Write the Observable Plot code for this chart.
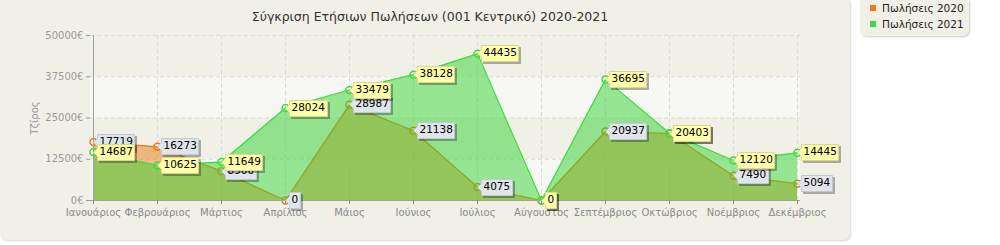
<!DOCTYPE html>
<html><head><meta charset="utf-8">
<script src="https://cdn.jsdelivr.net/npm/d3@7"></script>
<script src="https://cdn.jsdelivr.net/npm/@observablehq/plot@0.6"></script>
<style>
body{margin:0;background:#fff;font-family:"DejaVu Sans",sans-serif;}
#wrap{position:relative;width:1000px;height:245px;overflow:hidden}
#panel{position:absolute;left:0;top:0;width:850px;height:240px;background:#f1f0e6;border-radius:0 0 6px 6px;box-shadow:1px 1px 2px rgba(0,0,0,0.15)}
#title{position:absolute;left:0;width:860px;top:9px;text-align:center;font-size:12.5px;color:#333}
#chart{position:absolute;left:0;top:0}
#legend{position:absolute;left:860px;top:0;width:109px;height:36px;background:#f1f0e6;border-radius:0 0 6px 6px;box-shadow:1px 1px 2px rgba(0,0,0,0.2);font-size:10.5px;color:#222}
.li{position:absolute;left:10px;height:14px;line-height:14px;white-space:nowrap}
.sw{display:inline-block;width:6px;height:6px;margin-right:6px;vertical-align:1px}
</style></head>
<body>
<div id="wrap">
  <div id="panel"></div>
  <div id="title"></div>
  <div id="chart"></div>
  <div id="legend"></div>
</div>
<script>
const titleText = "Σύγκριση Ετήσιων Πωλήσεων (001 Κεντρικό) 2020-2021";
const months = ["Ιανουάριος","Φεβρουάριος","Μάρτιος","Απρίλιος","Μάιος","Ιούνιος","Ιούλιος","Αύγουστος","Σεπτέμβριος","Οκτώβριος","Νοέμβριος","Δεκέμβριος"];
const sales2020 = [17719,16273,8900,0,28987,21138,4075,0,20937,20300,7490,5094];
const sales2021 = [14687,10625,11649,28024,33479,38128,44435,0,36695,20403,12120,14445];
const yTicks = [0,12500,25000,37500,50000];
const seriesNames = ["Πωλήσεις 2020","Πωλήσεις 2021"];
const yLabel = "Τζίρος";

const col20 = "#f07818", col21 = "#3fdc3f";
const d20 = months.map((m,i)=>({month:m, value:sales2020[i]}));
const d21 = months.map((m,i)=>({month:m, value:sales2021[i]}));
const bands = yTicks.slice(0,-1).map((t,i)=>({y1:t, y2:yTicks[i+1], k:i})).filter(b=>b.k%2===0);

document.getElementById("title").textContent = titleText;
const lg = document.getElementById("legend");
[[seriesNames[0], col20],[seriesNames[1], col21]].forEach(([n,c],i)=>{
  const d = document.createElement("div");
  d.className="li"; d.style.top = (1+i*16)+"px";
  d.innerHTML = `<span class="sw" style="background:${c}"></span>`;
  d.appendChild(document.createTextNode(n));
  lg.appendChild(d);
});

const grid = {stroke:"#dcdcd2", strokeOpacity:1, strokeDasharray:"4,3"};
const tipCommon = {x:"month", y:"value", title:d=>String(d.value), anchor:"left",
  pointerSize:8, textPadding:2, fontSize:10.5, lineHeight:1, fontFamily:"DejaVu Sans",
  pathFilter:"drop-shadow(2px 2px 0px rgba(0,0,0,0.3))"};

const chart = Plot.plot({
  width:850, height:240,
  marginLeft:90, marginRight:50, marginTop:35, marginBottom:40,
  style:{background:"transparent", fontFamily:"DejaVu Sans", fontSize:"10px", color:"#000", overflow:"visible"},
  x:{type:"point", domain:months, padding:0},
  y:{domain:[0,50000]},
  marks:[
    Plot.rect(bands, {y1:"y1", y2:"y2", fill:"#f7f7f3"}),
    Plot.gridY(yTicks, grid),
    Plot.gridX(months, grid),
    Plot.areaY(d20, {x:"month", y:"value", fill:"#ee7a18", fillOpacity:0.5}),
    Plot.lineY(d20, {x:"month", y:"value", stroke:col20, strokeWidth:1.2}),
    Plot.dot(d20, {x:"month", y:"value", r:3.5, stroke:col20, fill:"none"}),
    Plot.areaY(d21, {x:"month", y:"value", fill:"#33d433", fillOpacity:0.5}),
    Plot.lineY(d21, {x:"month", y:"value", stroke:col21, strokeWidth:1.2}),
    Plot.dot(d21, {x:"month", y:"value", r:3.5, stroke:col21, fill:"none"}),
    Plot.ruleX([months[0]], {stroke:"#a0a0a0"}),
    Plot.ruleY([0], {stroke:"#a0a0a0"}),
    Plot.axisY(yTicks, {tickFormat:d=>d+"€", label:yLabel, labelAnchor:"center", labelOffset:60, labelArrow:"none",
      color:"#9a9a9a", tickSize:4, tickPadding:3, fontSize:10}),
    Plot.axisX(months, {tickSize:4, tickPadding:4, color:"#8a8a8a", fontSize:10, label:null}),
    Plot.tip(d20, {...tipCommon, fill:"#dfe5ea", stroke:"#c0c8d0"}),
    Plot.tip(d21, {...tipCommon, fill:"#ffffaa", stroke:"#d8d890"})
  ]
});
document.getElementById("chart").appendChild(chart);
</script>
</body></html>
